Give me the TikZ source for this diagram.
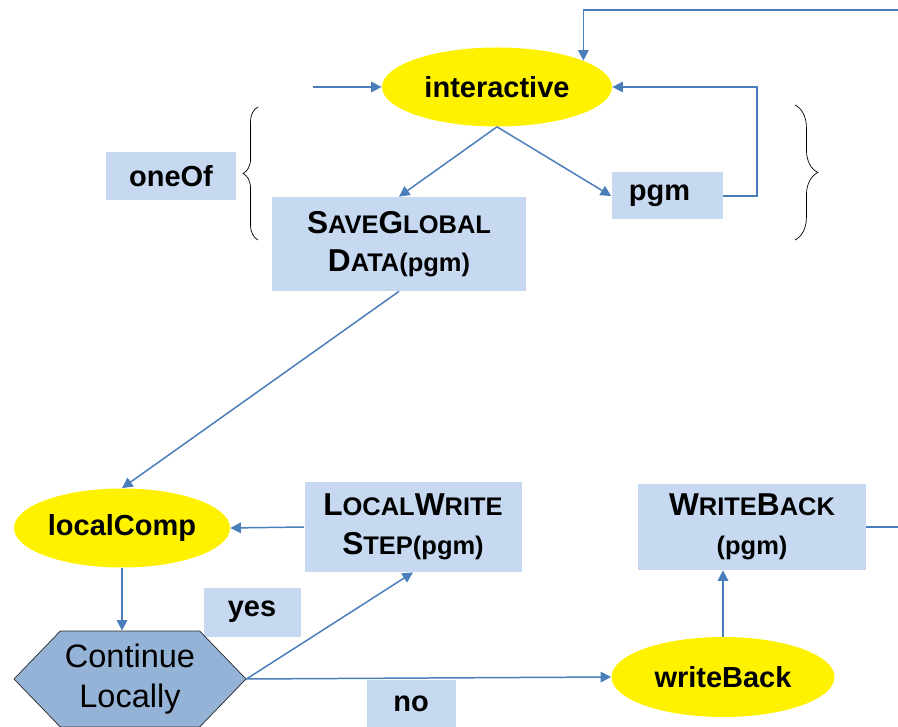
\documentclass[tikz,border=0pt]{standalone}
\usepackage{fontspec}
\setmainfont{Liberation Sans}
\usetikzlibrary{positioning,arrows.meta,shapes.geometric,shapes.symbols,decorations.pathreplacing}
\definecolor{boxblue}{HTML}{C6D9F1}
\definecolor{hexblue}{HTML}{95B3D7}
\definecolor{linkblue}{HTML}{4A7EBB}
\newcommand{\smcap}[1]{{\fontsize{14.5}{23}\selectfont #1}}

\begin{document}
\begin{tikzpicture}[
	oval/.style={ellipse, fill=yellow, inner sep=0pt, font=\bfseries\fontsize{16.5}{20}\selectfont},
	box/.style={rectangle, fill=boxblue, inner sep=0pt, align=center, font=\bfseries\fontsize{16.5}{20}\selectfont},
	bigbox/.style={box, font=\bfseries\fontsize{18}{22}\selectfont},
	hexa/.style={signal, signal to=west and east, signal pointer angle=92, fill=hexblue, draw=black!85, thin,
		inner sep=0pt, align=center, font=\fontsize{18.5}{22.7}\selectfont},
	arr/.style={draw=linkblue, line width=0.85pt, -{Triangle[width=6pt,length=6pt]}},
	lin/.style={draw=linkblue, line width=0.85pt},
	curly/.style={draw=black, thin, decorate, decoration={brace, amplitude=#1}}
	]
	\useasboundingbox (0,0) rectangle (17.96,14.52);

	%Nodes
	\node[oval, minimum width=4.6cm, minimum height=1.58cm]   (interactive) at (9.94,12.78) {interactive};
	\node[box, minimum width=2.6cm, minimum height=0.96cm]    (oneOf)       at (3.42,11.0)  {oneOf};
	\node[box, minimum width=2.22cm, minimum height=0.94cm]   (pgm)         at (13.34,10.6) {pgm\hspace{0.3cm}};
	\node[bigbox, minimum width=5.08cm, minimum height=1.88cm] (saveGlobal) at (7.98,9.64)  {S\smcap{AVE}G\smcap{LOBAL}\\D\smcap{ATA(pgm)}};
	\node[oval, minimum width=4.32cm, minimum height=1.58cm]  (localComp)   at (2.44,3.96)  {localComp};
	\node[bigbox, minimum width=4.34cm, minimum height=1.8cm] (localWrite)  at (8.26,3.98)  {L\smcap{OCAL}W\smcap{RITE}\\S\smcap{TEP(pgm)}};
	\node[bigbox, minimum width=4.56cm, minimum height=1.72cm] (writeBackBox) at (15.04,3.98) {W\smcap{RITE}B\smcap{ACK}\\\smcap{(pgm)}};
	\node[box, minimum width=1.94cm, minimum height=0.98cm]   (yes)         at (5.04,2.28)  {yes};
	\node[hexa, minimum width=4.64cm, minimum height=1.92cm]  (cont)        at (2.6,0.94)   {Continue\\Locally};
	\node[box, minimum width=1.78cm, minimum height=0.94cm]   (no)          at (8.22,0.45)  {no};
	\node[oval, minimum width=4.46cm, minimum height=1.6cm]   (writeBack)   at (14.46,0.98) {writeBack};
	\coordinate (topin)    at (17.96,14.32);
	\coordinate (leftin)   at (6.26,12.78);
	\coordinate (rightout) at (17.96,3.98);

	%Lines
	\draw[arr] (topin) -| (interactive.17);
	\draw[arr] (leftin) -- (interactive.west);
	\draw[arr] (interactive.south) -- (saveGlobal.north);
	\draw[arr] (interactive.south) -- (pgm.west);
	\draw[arr] (pgm.east) -- ++(0.68,0) |- (interactive.east);
	\draw[arr] (saveGlobal.south) -- (localComp.north);
	\draw[arr] (localWrite.west) -- (localComp.east);
	\draw[arr] (localComp.south) -- (localComp.south |- cont.north);
	\draw[arr] (cont.east) -- (localWrite.south);
	\draw[arr] (cont.east) -- (writeBack.west);
	\draw[arr] (writeBack.north) -- (writeBack.north |- writeBackBox.south);
	\draw[lin] (writeBackBox.east) -- (rightout);

	%Braces
	\draw[curly=8.5pt] (5.16,9.72) -- (5.16,12.38);
	\draw[curly=13pt] (15.9,12.42) -- (15.9,9.72);

\end{tikzpicture}
\end{document}
